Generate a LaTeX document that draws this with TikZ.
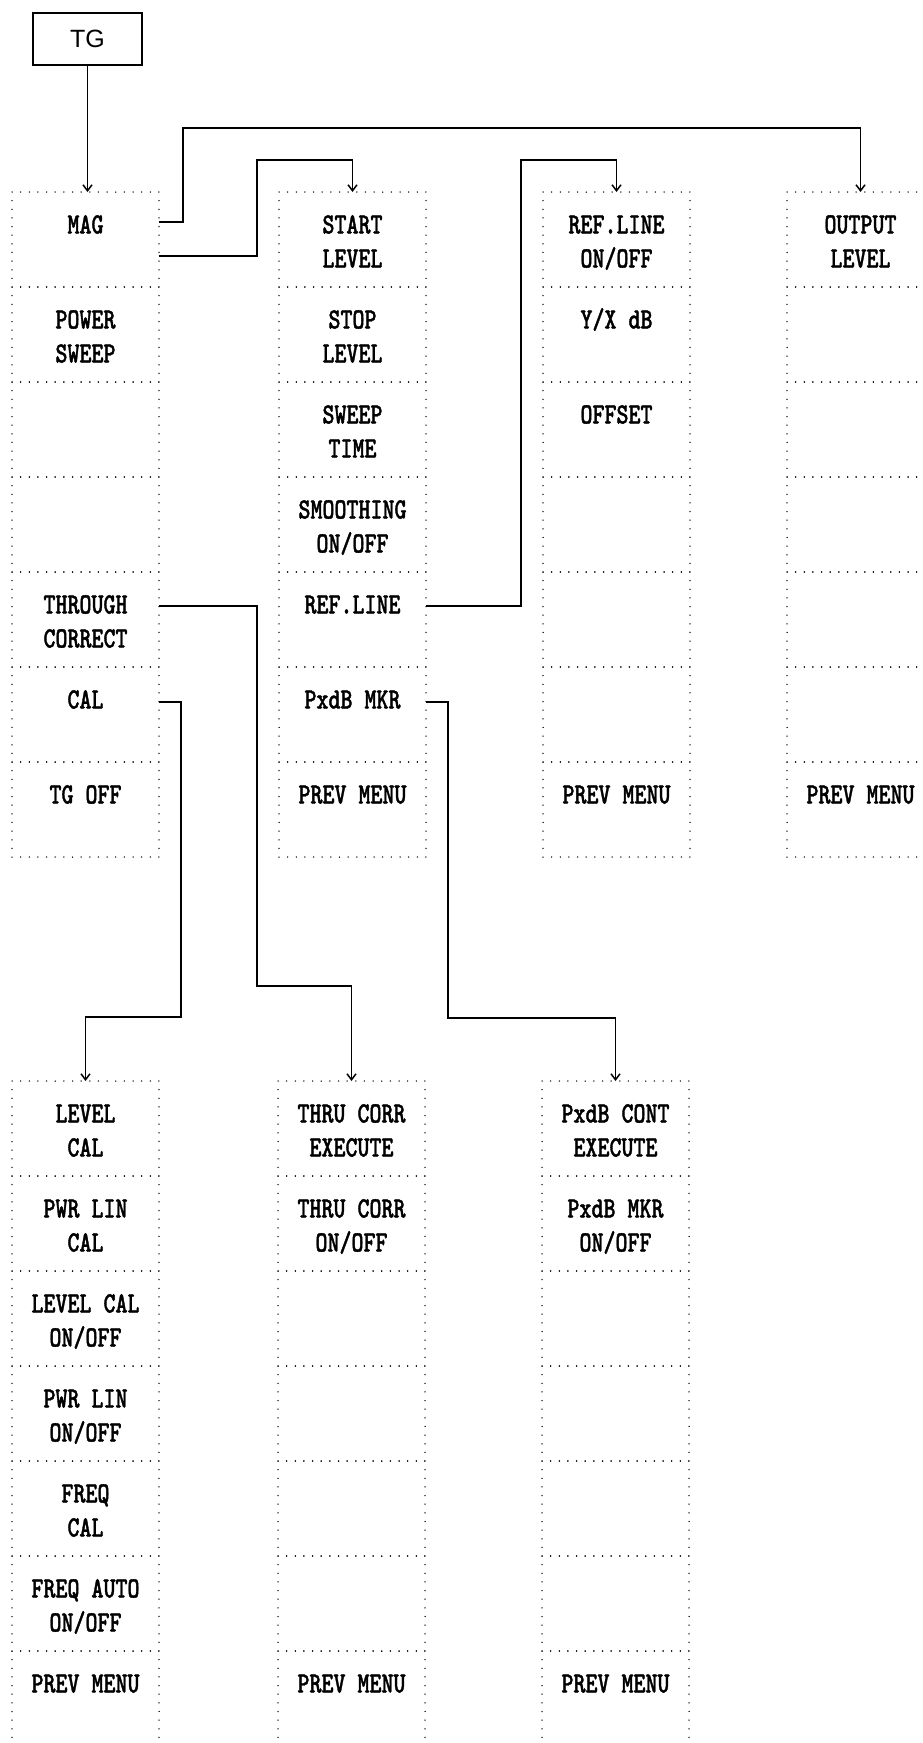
\documentclass[tikz,border=0pt]{standalone}
\usepackage{fontspec}
\usepackage{tikz}
\usetikzlibrary{arrows.meta}
\newfontfamily\menufont[FakeStretch=0.775,FakeBold=1.2]{lmmonolt10-bold.otf}
\newfontfamily\tgfont{Liberation Sans}

\begin{document}
\begin{tikzpicture}[
  x=1pt, y=-1pt,
  font=\menufont\fontsize{29.5pt}{34pt}\selectfont,
  cell/.style={draw, line width=1.5pt, line cap=round,
               dash pattern=on 0pt off 8.644pt,
               minimum width=147pt, minimum height=95pt,
               inner sep=0pt, outer sep=0pt, align=center,
               text height=56pt, text depth=0pt},
  tgbox/.style={draw, line width=2.4pt, minimum width=109pt,
                minimum height=52pt, inner sep=0pt,
                font=\tgfont\fontsize{25pt}{30pt}\selectfont},
  arrow/.style={-{Straight Barb[length=6pt,width=9pt]}, line width=1.5pt}
]
\useasboundingbox (0,0) rectangle (923,1743);

% ---- TG key ----
\node[tgbox] (tg) at (87.5,39) {TG};

% ---- TG menu ----
\node[cell] (m1) at (85.5,239.5) {MAG\\\mbox{}};
\node[cell] (m2) at (85.5,334.5) {POWER\\SWEEP};
\node[cell] (m3) at (85.5,429.5) {};
\node[cell] (m4) at (85.5,524.5) {};
\node[cell] (m5) at (85.5,619.5) {THROUGH\\CORRECT};
\node[cell] (m6) at (85.5,714.5) {CAL\\\mbox{}};
\node[cell] (m7) at (85.5,809.5) {TG OFF\\\mbox{}};

% ---- Power sweep menu ----
\node[cell] (lv1) at (352.5,239.5) {START\\LEVEL};
\node[cell] (lv2) at (352.5,334.5) {STOP\\LEVEL};
\node[cell] (lv3) at (352.5,429.5) {SWEEP\\TIME};
\node[cell] (lv4) at (352.5,524.5) {SMOOTHING\\ON/OFF};
\node[cell] (lv5) at (352.5,619.5) {REF.LINE\\\mbox{}};
\node[cell] (lv6) at (352.5,714.5) {PxdB MKR\\\mbox{}};
\node[cell] (lv7) at (352.5,809.5) {PREV MENU\\\mbox{}};

% ---- Ref. line menu ----
\node[cell] (rl1) at (616.5,239.5) {REF.LINE\\ON/OFF};
\node[cell] (rl2) at (616.5,334.5) {Y/X dB\\\mbox{}};
\node[cell] (rl3) at (616.5,429.5) {OFFSET\\\mbox{}};
\node[cell] (rl4) at (616.5,524.5) {};
\node[cell] (rl5) at (616.5,619.5) {};
\node[cell] (rl6) at (616.5,714.5) {};
\node[cell] (rl7) at (616.5,809.5) {PREV MENU\\\mbox{}};

% ---- Output level menu ----
\node[cell] (ol1) at (860.5,239.5) {OUTPUT\\LEVEL};
\node[cell] (ol2) at (860.5,334.5) {};
\node[cell] (ol3) at (860.5,429.5) {};
\node[cell] (ol4) at (860.5,524.5) {};
\node[cell] (ol5) at (860.5,619.5) {};
\node[cell] (ol6) at (860.5,714.5) {};
\node[cell] (ol7) at (860.5,809.5) {PREV MENU\\\mbox{}};

% ---- Cal menu ----
\node[cell] (cl1) at (85.5,1128.5) {LEVEL\\CAL};
\node[cell] (cl2) at (85.5,1223.5) {PWR LIN\\CAL};
\node[cell] (cl3) at (85.5,1318.5) {LEVEL CAL\\ON/OFF};
\node[cell] (cl4) at (85.5,1413.5) {PWR LIN\\ON/OFF};
\node[cell] (cl5) at (85.5,1508.5) {FREQ\\CAL};
\node[cell] (cl6) at (85.5,1603.5) {FREQ AUTO\\ON/OFF};
\node[cell] (cl7) at (85.5,1698.5) {PREV MENU\\\mbox{}};

% ---- Through correct menu ----
\node[cell] (tc1) at (351.5,1128.5) {THRU CORR\\EXECUTE};
\node[cell] (tc2) at (351.5,1223.5) {THRU CORR\\ON/OFF};
\node[cell] (tc3) at (351.5,1318.5) {};
\node[cell] (tc4) at (351.5,1413.5) {};
\node[cell] (tc5) at (351.5,1508.5) {};
\node[cell] (tc6) at (351.5,1603.5) {};
\node[cell] (tc7) at (351.5,1698.5) {PREV MENU\\\mbox{}};

% ---- PxdB marker menu ----
\node[cell] (px1) at (615.5,1128.5) {PxdB CONT\\EXECUTE};
\node[cell] (px2) at (615.5,1223.5) {PxdB MKR\\ON/OFF};
\node[cell] (px3) at (615.5,1318.5) {};
\node[cell] (px4) at (615.5,1413.5) {};
\node[cell] (px5) at (615.5,1508.5) {};
\node[cell] (px6) at (615.5,1603.5) {};
\node[cell] (px7) at (615.5,1698.5) {PREV MENU\\\mbox{}};

% ---- Wiring ----
\draw[arrow] (tg.south) -- (tg.south |- m1.north);
\draw[arrow] ([yshift=17.5pt]m1.east) -- ++(24,0)
  |- ([yshift=64pt]ol1.north) -- (ol1.north);
\draw[arrow] ([yshift=-16.5pt]m1.east) -- ++(98,0)
  |- ([yshift=32pt]lv1.north) -- (lv1.north);
\draw[arrow] ([yshift=13.5pt]lv5.east) -- ++(95,0)
  |- ([yshift=32pt]rl1.north) -- (rl1.north);
\draw[arrow] ([yshift=13.5pt]m5.east) -- ++(98,0)
  |- ([yshift=95pt]tc1.north) -- (tc1.north);
\draw[arrow] ([yshift=12.5pt]m6.east) -- ++(22,0)
  |- ([yshift=64pt]cl1.north) -- (cl1.north);
\draw[arrow] ([yshift=12.5pt]lv6.east) -- ++(22,0)
  |- ([yshift=63pt]px1.north) -- (px1.north);
\end{tikzpicture}
\end{document}
